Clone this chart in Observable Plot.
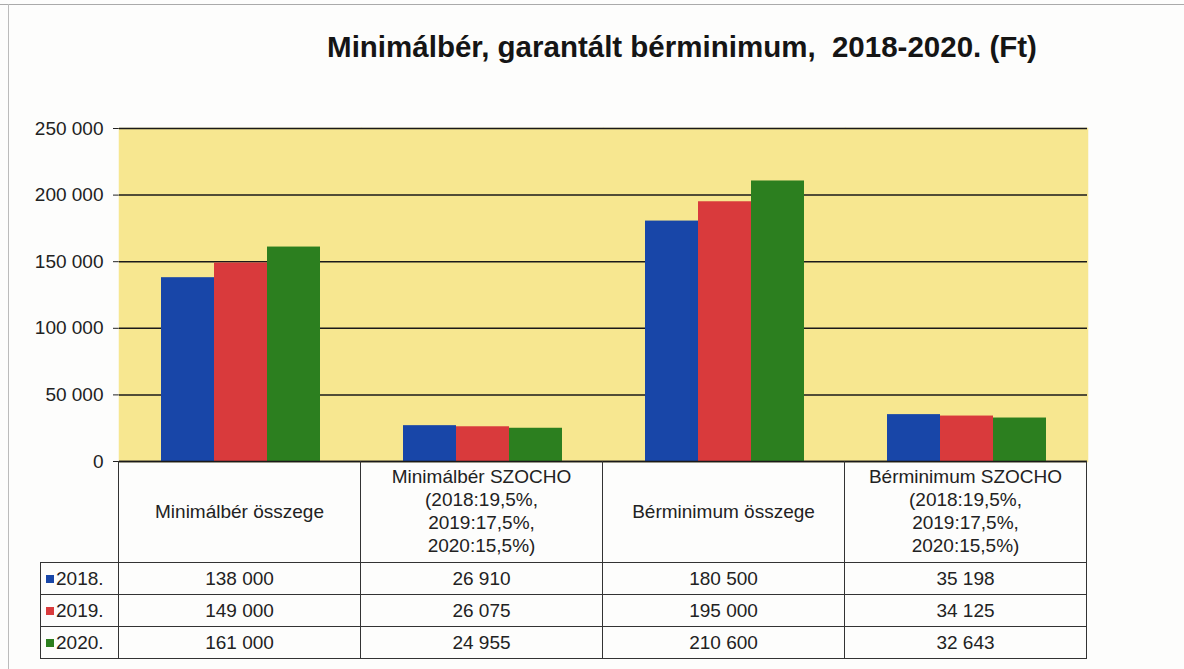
<!DOCTYPE html>
<html>
<head>
<meta charset="utf-8">
<script src="https://cdn.jsdelivr.net/npm/d3@7"></script>
<script src="https://cdn.jsdelivr.net/npm/@observablehq/plot@0.6"></script>
<style>
  html, body { margin: 0; padding: 0; background: #fdfdfc; }
  #wrap { position: relative; width: 1184px; height: 669px; overflow: hidden;
          font-family: "Liberation Sans", Arial, sans-serif; color: #222; }
  #frameTop { position: absolute; left: 0; top: 4px; width: 1184px; height: 0; border-top: 1px solid #aaa; }
  #frameLeft { position: absolute; left: 8px; top: 4px; width: 0; height: 665px; border-left: 1px solid #bbb; }
  #title { position: absolute; top: 30px; left: 182px; width: 1000px; text-align: center;
           font-weight: bold; font-size: 29.5px; white-space: pre; color: #151515; }
  #chart { position: absolute; left: 0; top: 0; }
  #tbl { position: absolute; left: 40px; top: 461px; border-collapse: collapse; table-layout: fixed;
         font-size: 19px; color: #222; }
  #tbl td { border: 1.5px solid #333; text-align: center; padding: 0; line-height: 23px; }
  #tbl td.hdr { white-space: pre-line; vertical-align: middle; border-top: none; }
  #tbl td.blank { border-top: none; border-left: none; }
  #tbl td.leg { text-align: left; padding-left: 5px; }
  .sw { display: inline-block; width: 8px; height: 8px; margin-right: 2px; vertical-align: 2px; }
</style>
</head>
<body>
<div id="wrap">
  <div id="frameTop"></div>
  <div id="frameLeft"></div>
  <div id="chart"></div>
  <div id="title"></div>
  <table id="tbl"></table>
</div>
<script>
const titleText = "Minimálbér, garantált bérminimum,  2018-2020. (Ft)";
const categories = [
  "Minimálbér összege",
  "Minimálbér SZOCHO\n(2018:19,5%,\n2019:17,5%,\n2020:15,5%)",
  "Bérminimum összege",
  "Bérminimum SZOCHO\n(2018:19,5%,\n2019:17,5%,\n2020:15,5%)"
];
const years = ["2018.", "2019.", "2020."];
const values2018 = [138000, 26910, 180500, 35198];
const values2019 = [149000, 26075, 195000, 34125];
const values2020 = [161000, 24955, 210600, 32643];
const yTicks = [0, 50000, 100000, 150000, 200000, 250000];
const colors = ["#1846a8", "#d93a3c", "#2c7f1f"];

const series = [values2018, values2019, values2020];
const data = categories.flatMap((c, i) => years.map((y, j) => ({category: c, year: y, value: series[j][i]})));
const fmt = d3.formatLocale({decimal: ",", thousands: "\u00a0", grouping: [3], currency: ["", ""]}).format(",d");

document.getElementById("title").textContent = titleText;

const plotBg = "#f7e790";
const plot = Plot.plot({
  width: 1184,
  height: 669,
  marginLeft: 118,
  marginRight: 96,
  marginTop: 128,
  marginBottom: 208,
  style: {fontFamily: "'Liberation Sans', Arial, sans-serif", fontSize: "19px", color: "#222", background: "transparent", overflow: "visible"},
  fx: {domain: categories, padding: 0, axis: null, label: null},
  x: {domain: years, paddingInner: 0, paddingOuter: 0.75, axis: null},
  y: {domain: [0, 250000], ticks: yTicks, tickFormat: fmt, tickSize: 6, tickPadding: 10, line: true, label: null},
  color: {domain: years, range: colors},
  marks: [
    Plot.frame({fill: plotBg, stroke: plotBg, strokeWidth: 1.5}),
    Plot.ruleY(yTicks, {stroke: "#1a1a1a", strokeWidth: 1.5}),
    Plot.barY(data, {fx: "category", x: "year", y: "value", fill: "year"}),
    Plot.ruleY([0], {stroke: "#1a1a1a", strokeWidth: 1.5})
  ]
});
document.getElementById("chart").appendChild(plot);

// data table under the chart, columns aligned with the fx bands
const fx = plot.scale("fx");
const bw = fx.bandwidth !== undefined ? fx.bandwidth : (1184 - 118 - 96) / categories.length;
const tbl = d3.select("#tbl").style("width", (78 + bw * categories.length) + "px");
const cg = tbl.append("colgroup");
cg.append("col").style("width", "78px");
categories.forEach(() => cg.append("col").style("width", bw + "px"));
const hr = tbl.append("tr").style("height", "101px");
hr.append("td").attr("class", "blank");
categories.forEach(c => hr.append("td").attr("class", "hdr").text(c));
years.forEach((y, j) => {
  const tr = tbl.append("tr").style("height", "32px");
  const lc = tr.append("td").attr("class", "leg");
  lc.append("span").attr("class", "sw").style("background", colors[j]);
  lc.append("span").text(y);
  series[j].forEach(v => tr.append("td").text(fmt(v)));
});
</script>
</body>
</html>
